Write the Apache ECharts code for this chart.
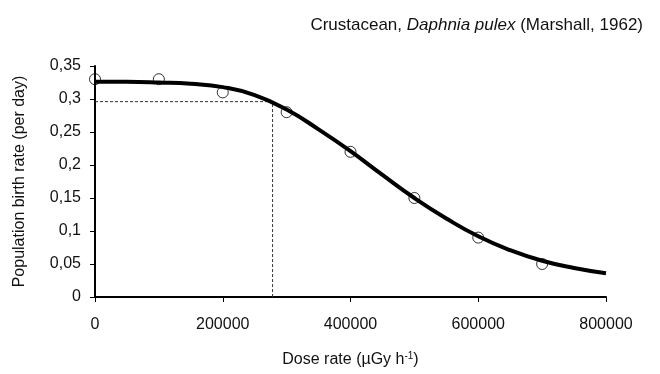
<!DOCTYPE html>
<html>
<head>
<meta charset="utf-8">
<script src="https://cdn.jsdelivr.net/npm/echarts@6/dist/echarts.min.js"></script>
<style>
  html, body { margin: 0; padding: 0; background: #fff; }
  #chart { width: 660px; height: 374px; }
</style>
</head>
<body>
<div id="chart"></div>
<script>
// Observed birth rates (per day) at each dose rate (µGy/h)
const obsDose = [0, 100000, 200000, 300000, 400000, 500000, 600000, 700000];
const obsRate = [0.33, 0.33, 0.31, 0.28, 0.22, 0.15, 0.09, 0.05];

// Fitted dose-response curve
const fitDose = [0, 50000, 100000, 150000, 200000, 250000, 300000, 350000, 400000,
                 450000, 500000, 550000, 600000, 650000, 700000, 750000, 800000];
const fitRate = [0.326, 0.326, 0.325, 0.323, 0.318, 0.306, 0.284, 0.254, 0.221,
                 0.185, 0.150, 0.119, 0.092, 0.071, 0.055, 0.044, 0.036];

// Reference point marked by the dashed guide lines
const refDose = 278000;
const refRate = 0.296;

// Axis ticks
const xTicks = [0, 200000, 400000, 600000, 800000];
const yTicks = [0, 0.05, 0.1, 0.15, 0.2, 0.25, 0.3, 0.35];

const FONT = '"Liberation Sans", Arial, sans-serif';
const chart = echarts.init(document.getElementById('chart'), null, { renderer: 'canvas' });

const pairs = (xs, ys) => xs.map((x, i) => [x, ys[i]]);

chart.setOption({
  animation: false,
  backgroundColor: '#fff',
  title: {
    text: '{n|Crustacean, }{i|Daphnia pulex}{n| (Marshall, 1962)}',
    right: 12,
    top: 12,
    textStyle: {
      fontWeight: 'normal',
      rich: {
        n: { fontFamily: FONT, fontSize: 17, color: '#111', fontWeight: 'normal' },
        i: { fontFamily: FONT, fontSize: 17, color: '#111', fontWeight: 'normal', fontStyle: 'italic' }
      }
    }
  },
  grid: { left: 95, right: 54, top: 66, bottom: 76, containLabel: false },
  xAxis: {
    type: 'value',
    min: xTicks[0],
    max: xTicks[xTicks.length - 1],
    interval: xTicks[1] - xTicks[0],
    name: 'Dose rate (µGy h{sup|-1})',
    nameLocation: 'middle',
    nameGap: 54,
    nameTextStyle: {
      fontFamily: FONT, fontSize: 16, color: '#111', lineHeight: 18,
      rich: { sup: { fontFamily: FONT, fontSize: 10, color: '#111', verticalAlign: 'top', padding: [0, 0, 8, 0] } }
    },
    axisLine: { lineStyle: { color: '#000', width: 2 } },
    axisTick: { show: true, length: 5, lineStyle: { color: '#000', width: 1 } },
    axisLabel: { fontFamily: FONT, fontSize: 16, color: '#111', margin: 20, formatter: v => String(v) },
    splitLine: { show: false }
  },
  yAxis: {
    type: 'value',
    min: yTicks[0],
    max: yTicks[yTicks.length - 1],
    interval: 0.05,
    name: 'Population birth rate (per day)',
    nameLocation: 'middle',
    nameGap: 67,
    nameTextStyle: { fontFamily: FONT, fontSize: 16, color: '#111' },
    axisLine: { show: true, lineStyle: { color: '#000', width: 2 } },
    axisTick: { show: true, length: 5, lineStyle: { color: '#000', width: 1 } },
    axisLabel: {
      fontFamily: FONT, fontSize: 16, color: '#111', margin: 14,
      formatter: v => String(Math.round(v * 100) / 100).replace('.', ',')
    },
    splitLine: { show: false }
  },
  series: [
    {
      name: 'guide',
      type: 'line',
      data: [[0, refRate], [refDose, refRate], [refDose, 0]],
      symbol: 'none',
      lineStyle: { color: '#333', width: 1, type: [3, 2] },
      z: 1,
      silent: true
    },
    {
      name: 'observed',
      type: 'scatter',
      data: pairs(obsDose, obsRate),
      symbol: 'circle',
      symbolSize: 11,
      itemStyle: { color: 'rgba(0,0,0,0)', borderColor: '#000', borderWidth: 1 },
      z: 2
    },
    {
      name: 'fit',
      type: 'line',
      data: pairs(fitDose, fitRate),
      smooth: 0.5,
      symbol: 'none',
      lineStyle: { color: '#000', width: 4 },
      z: 3
    }
  ]
});
</script>
</body>
</html>
